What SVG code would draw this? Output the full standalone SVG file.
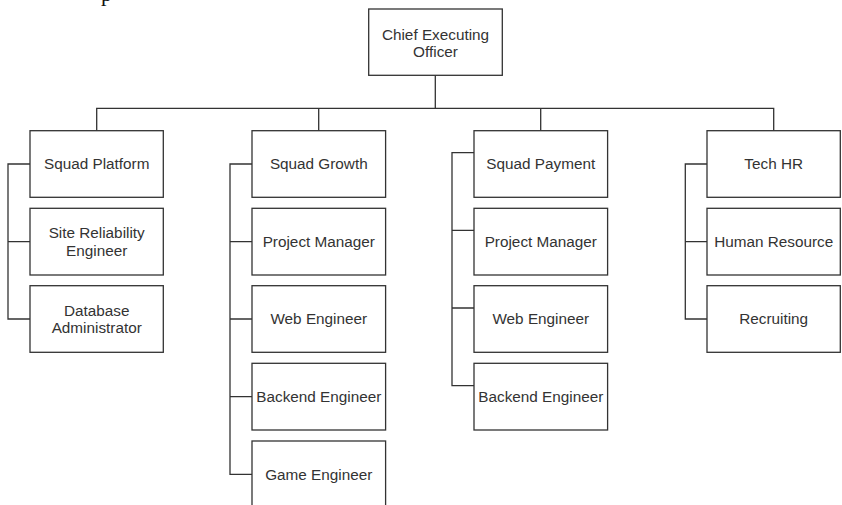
<svg xmlns="http://www.w3.org/2000/svg" width="842" height="505" viewBox="0 0 842 505">
<style>
.box rect{fill:#fff;stroke:#333;stroke-width:1.3}
.box text{font-family:"Liberation Sans",Arial,sans-serif;font-size:15.3px;fill:#333;text-anchor:middle}
#connectors path{fill:none;stroke:#333;stroke-width:1.3}
</style>
<rect width="842" height="505" fill="#fff"/>
<text x="101" y="0.5" font-family="Liberation Serif, serif" font-size="22" fill="#111">p</text>
<g id="connectors">
<path d="M435.3,75.3 V108.3 M96.7,130.7 V108.3 H773.7 V130.7 M318.7,108.3 V130.7 M540.7,108.3 V130.7"/>
<path d="M30,164 H8 V319 H30 M8,241.7 H30"/>
<path d="M252,164 H230 V474.3 H252 M230,241.7 H252 M230,319 H252 M230,396.7 H252"/>
<path d="M474,152.7 H452 V385.7 H474 M452,230.3 H474 M452,308 H474"/>
<path d="M707,164 H685.3 V319 H707 M685.3,241.7 H707"/>
</g>
<g id="ceo" class="box"><rect x="368.7" y="9" width="133.6" height="66.3"/><text x="435.5" y="39.7">Chief Executing</text><text x="435.5" y="57.1">Officer</text></g>
<g id="squad-platform" class="box"><rect x="30" y="130.7" width="133.3" height="66.6"/><text x="96.7" y="169.4">Squad Platform</text></g>
<g id="site-reliability-engineer" class="box"><rect x="30" y="208.3" width="133.3" height="66.7"/><text x="96.7" y="238.4">Site Reliability</text><text x="96.7" y="255.8">Engineer</text></g>
<g id="database-administrator" class="box"><rect x="30" y="285.7" width="133.3" height="66.6"/><text x="96.7" y="315.7">Database</text><text x="96.7" y="333.1">Administrator</text></g>
<g id="squad-growth" class="box"><rect x="252" y="130.7" width="133.6" height="66.6"/><text x="318.8" y="169.4">Squad Growth</text></g>
<g id="growth-project-manager" class="box"><rect x="252" y="208.3" width="133.6" height="66.7"/><text x="318.8" y="247.1">Project Manager</text></g>
<g id="growth-web-engineer" class="box"><rect x="252" y="285.7" width="133.6" height="66.6"/><text x="318.8" y="324.4">Web Engineer</text></g>
<g id="growth-backend-engineer" class="box"><rect x="252" y="363.3" width="133.6" height="66.7"/><text x="318.8" y="402.1">Backend Engineer</text></g>
<g id="game-engineer" class="box"><rect x="252" y="441" width="133.6" height="66.7"/><text x="318.8" y="479.7">Game Engineer</text></g>
<g id="squad-payment" class="box"><rect x="474" y="130.7" width="133.6" height="66.6"/><text x="540.8" y="169.4">Squad Payment</text></g>
<g id="payment-project-manager" class="box"><rect x="474" y="208.3" width="133.6" height="66.7"/><text x="540.8" y="247.1">Project Manager</text></g>
<g id="payment-web-engineer" class="box"><rect x="474" y="285.7" width="133.6" height="66.6"/><text x="540.8" y="324.4">Web Engineer</text></g>
<g id="payment-backend-engineer" class="box"><rect x="474" y="363.3" width="133.6" height="66.7"/><text x="540.8" y="402.1">Backend Engineer</text></g>
<g id="tech-hr" class="box"><rect x="707" y="130.7" width="133.3" height="66.6"/><text x="773.7" y="169.4">Tech HR</text></g>
<g id="human-resource" class="box"><rect x="707" y="208.3" width="133.3" height="66.7"/><text x="773.7" y="247.1">Human Resource</text></g>
<g id="recruiting" class="box"><rect x="707" y="285.7" width="133.3" height="66.6"/><text x="773.7" y="324.4">Recruiting</text></g>
</svg>
